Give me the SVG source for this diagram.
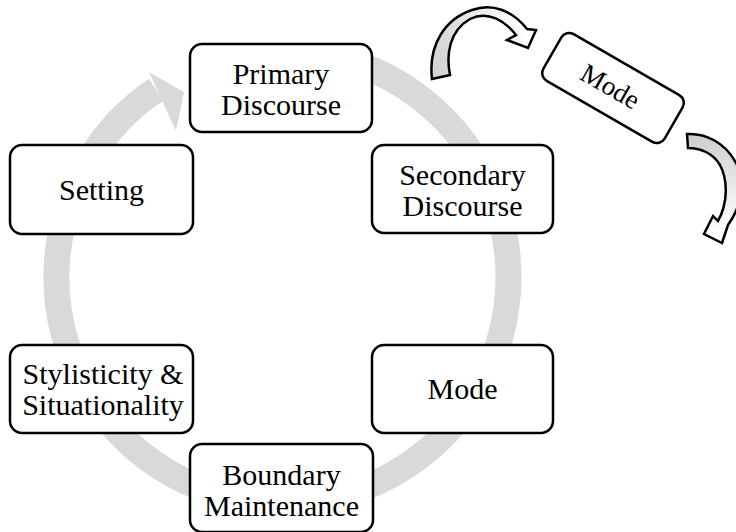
<svg xmlns="http://www.w3.org/2000/svg" width="736" height="532" viewBox="0 0 736 532">
<defs>
<style>
.box{fill:#ffffff;stroke:#000000;stroke-width:2.5}
.lbl{font-family:"Liberation Serif","Times New Roman",serif;font-size:30px;fill:#000000;text-anchor:middle}
.ring{fill:none;stroke:#d9d9d9;stroke-width:26}
.curved{stroke:#000000;stroke-width:2.5;stroke-linejoin:miter}
</style>
<linearGradient id="g1" x1="432" y1="78" x2="530" y2="45" gradientUnits="userSpaceOnUse">
<stop offset="0" stop-color="#cfcfcf"/>
<stop offset="0.5" stop-color="#e6e6e6"/>
<stop offset="1" stop-color="#ffffff"/>
</linearGradient>
<linearGradient id="g2" x1="688" y1="140" x2="710" y2="235" gradientUnits="userSpaceOnUse">
<stop offset="0" stop-color="#cfcfcf"/>
<stop offset="0.5" stop-color="#e6e6e6"/>
<stop offset="1" stop-color="#ffffff"/>
</linearGradient>
</defs>
<g id="connectors">
<path class="ring" d="M 341,58.7 A 226 226 0 1 1 156.1,89.6"/>
<polygon points="149,72 184,92 176,131" fill="#d9d9d9"/>
<path class="curved" fill="url(#g1)" d="M 432,79 L 450,75 C 446,55 449,31 470,19 C 488,10 505,21 516,35 L 507,40 L 528,48 L 536,30 L 527,29 C 512,10 492,3 472,10 C 445,19 428,45 432,79 Z"/>
<path class="curved" fill="url(#g2)" d="M 687,134 L 688,148 C 700,148 713,153 720,165 C 728,180 728,203 718,221 L 713,216 L 704,234 L 722,243 L 728,225 C 742,205 746,182 736,163 C 725,142 705,133 687,134 Z"/>
</g>
<g id="primary">
<rect class="box" x="190" y="44" width="182" height="88" rx="12"/>
<text class="lbl" x="281" y="84">Primary</text>
<text class="lbl" x="281" y="115">Discourse</text>
</g>
<g id="secondary">
<rect class="box" x="372" y="145" width="181" height="88" rx="12"/>
<text class="lbl" x="462.5" y="185">Secondary</text>
<text class="lbl" x="462.5" y="216">Discourse</text>
</g>
<g id="setting">
<rect class="box" x="10" y="145" width="183" height="89" rx="12"/>
<text class="lbl" x="101.5" y="200">Setting</text>
</g>
<g id="stylisticity">
<rect class="box" x="10" y="345" width="183" height="88" rx="12"/>
<text class="lbl" x="103" y="384">Stylisticity &amp;</text>
<text class="lbl" x="103" y="415">Situationality</text>
</g>
<g id="mode">
<rect class="box" x="372" y="345" width="181" height="88" rx="12"/>
<text class="lbl" x="462.5" y="399">Mode</text>
</g>
<g id="boundary">
<rect class="box" x="190" y="444" width="183" height="88" rx="12"/>
<text class="lbl" x="281.5" y="485">Boundary</text>
<text class="lbl" x="281.5" y="516">Maintenance</text>
</g>
<g id="mode-rotated" transform="translate(613,88) rotate(30)">
<rect class="box" x="-70" y="-27" width="140" height="54" rx="9"/>
<text class="lbl" x="-3" y="9" style="font-size:27px">Mode</text>
</g>
</svg>
